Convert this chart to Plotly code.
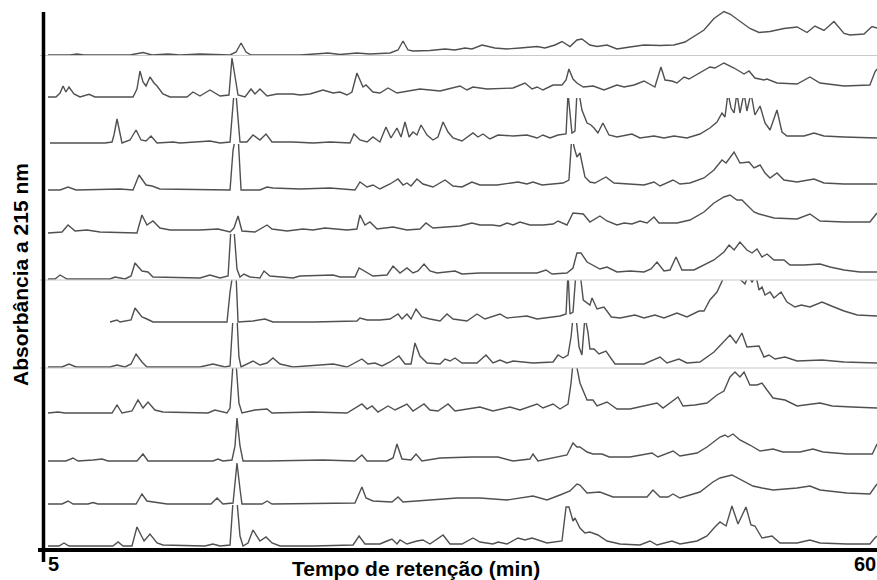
import plotly.graph_objects as go
from plotly.subplots import make_subplots

# ---------------- data (retention time in min, absorbance in arbitrary units) ----------------
t1_time = [5.13, 6.59, 7.05, 7.52, 10.56, 11.42, 12.02, 13.07, 13.87, 15.19, 17.18, 17.58, 17.91, 18.24, 18.57,
           21.81, 22.80, 23.66, 24.46, 25.58, 26.44, 26.91, 27.77, 28.30, 28.63, 28.96, 29.29, 30.41, 31.41, 32.07,
           32.73, 33.19, 33.86, 34.71, 35.51, 36.37, 37.50, 38.02, 38.69, 39.15, 39.68, 40.14, 40.47, 41.00, 41.47,
           42.13, 42.79, 43.65, 44.58, 45.64, 46.56, 47.29, 47.89, 48.55, 49.21, 49.87, 50.27, 50.93, 51.59, 52.19,
           52.92, 53.84, 54.71, 55.37, 55.89, 56.49, 57.15, 57.82, 58.21, 59.14, 59.67, 60.00]
t1_abs = [0, 0, 1, 0, 0, 2.5, 0, 1, 0, 1, 0, 3, 12, 3, 0,
          0, 1, 2, 0.5, 2, 1, 1.5, 2, 5, 14, 5, 4, 4.5, 6, 5,
          7, 6, 10, 7, 6, 7, 8.5, 7, 10, 13.5, 8.5, 15, 16, 10, 8.5,
          10, 6, 8, 10, 9.5, 10, 13, 18.5, 25, 36.5, 43.5, 41, 33.5, 26.5, 22.5,
          23.5, 26.5, 28, 22.5, 29, 24.5, 33.5, 21.5, 20, 21, 28.5, 27]

t2_time = [5.13, 5.66, 5.93, 6.13, 6.32, 6.52, 6.85, 7.25, 7.85, 8.24, 10.76, 11.02, 11.22, 11.42, 11.62, 11.88,
           12.15, 12.35, 12.74, 13.21, 14.33, 14.73, 15.19, 15.85, 16.52, 17.11, 17.31, 17.51, 17.71, 18.17, 18.57,
           18.83, 19.16, 19.63, 20.29, 21.35, 21.81, 22.47, 23.33, 24.00, 24.46, 24.92, 25.25, 25.58, 25.98, 26.18,
           26.64, 27.10, 27.64, 28.23, 29.75, 31.08, 32.40, 32.86, 33.26, 34.19, 35.91, 36.70, 37.17, 37.50, 37.89,
           38.56, 39.15, 39.42, 39.61, 39.88, 40.14, 40.56, 41.22, 41.93, 42.79, 43.26, 43.92, 44.58, 45.30, 45.50,
           45.70, 45.97, 46.43, 46.76, 47.23, 47.56, 48.28, 48.94, 49.27, 49.87, 50.54, 51.20, 51.53, 51.92, 52.52,
           52.72, 53.38, 54.71, 55.56, 56.23, 57.82, 59.53, 59.86, 60.00]
t2_abs = [0, 0, 4, 11, 5, 10, 3, 0, 2.7, 0, 0, 8, 26, 15, 11, 20,
          14, 11, 3, 0, 0, 5, 1, 7, 1, 2, 39, 20, 2, 0, 8,
          3, 8, 1, 3, 3, 2, 3, 7, 4, 5, 2, 5, 24, 10, 12,
          5, 4, 9, 4, 8, 6, 11, 7, 10, 8, 9, 14, 8, 10, 7,
          12, 12, 17, 28, 18, 14, 10, 11, 7, 12, 10, 12, 16, 10, 20,
          30, 17, 16, 14, 20, 18, 24, 30, 29, 34, 29, 23, 26, 19, 17,
          18, 14, 13, 20, 14, 11, 12, 25, 28]

t3_time = [5.26, 8.90, 9.37, 9.50, 9.70, 9.90, 10.03, 10.56, 10.96, 11.29, 11.62, 11.95, 12.35, 13.41, 13.87,
           15.85, 16.52, 17.18, 17.31, 17.44, 17.57, 17.71, 17.84, 18.30, 18.70, 19.16, 19.56, 19.96, 21.35, 22.67,
           23.80, 25.12, 25.38, 25.78, 26.25, 26.64, 27.10, 27.50, 27.83, 28.23, 28.50, 28.76, 29.03, 29.29, 29.55,
           29.82, 30.22, 30.61, 30.94, 31.28, 31.61, 31.94, 32.53, 33.26, 33.59, 33.92, 34.38, 34.92, 35.91, 36.83,
           37.50, 37.89, 38.36, 38.89, 39.42, 39.55, 39.68, 39.81, 40.01, 40.14, 40.28, 40.47, 40.81, 41.07, 41.27,
           41.53, 41.86, 42.26, 42.79, 43.78, 44.31, 45.24, 45.90, 46.56, 47.42, 48.28, 48.94, 49.41, 49.74, 49.94,
           50.14, 50.34, 50.54, 50.73, 50.93, 51.20, 51.39, 51.66, 51.92, 52.26, 52.59, 52.92, 53.38, 53.71, 54.04,
           55.17, 55.83, 56.49, 57.82, 60.00]
t3_abs = [0, 0, 1, 8, 24, 8, 0, 3, 13, 3, 2, 7, 0, 1, 0,
          2, 0, 1, 30, 50, 50, 20, 1, 1, 8, 3, 9, 1, 1, 0,
          1, 0, 9, 3, 1, 6, 1, 16, 5, 15, 6, 21, 6, 11, 8,
          18, 8, 3, 6, 21, 11, 5, 2, 10, 6, 9, 4, 8, 7, 8,
          5, 8, 5, 8, 9, 50, 30, 10, 12, 50, 50, 33, 20, 18, 15,
          10, 20, 8, 6, 9, 5, 7, 5, 7, 5, 9, 15, 21, 30, 26,
          50, 35, 30, 50, 30, 50, 32, 50, 28, 37, 20, 13, 33, 11, 7,
          7, 10, 7, 6, 5]

t4_time = [5.13, 5.93, 6.46, 6.99, 9.90, 10.76, 11.16, 11.62, 12.02, 12.54, 17.18, 17.38, 17.58, 17.71, 17.91,
           19.16, 19.63, 20.02, 21.81, 23.80, 25.45, 25.78, 26.25, 26.64, 27.10, 27.77, 28.30, 28.63, 28.89, 29.16,
           29.55, 29.95, 30.61, 31.41, 31.94, 32.53, 33.19, 33.72, 34.85, 36.24, 36.83, 37.23, 37.83, 38.36, 39.22,
           39.61, 39.81, 39.95, 40.14, 40.34, 40.67, 41.00, 41.33, 42.06, 42.59, 44.58, 45.24, 45.64, 46.50, 46.96,
           47.62, 48.55, 49.21, 49.74, 50.01, 50.54, 50.93, 51.53, 51.86, 52.26, 52.59, 52.92, 53.38, 53.84, 54.71,
           55.83, 56.49, 57.82, 60.00]
t4_abs = [0, 0, 3, 0, 1, 0, 15, 5, 4, 1, 0, 40, 55, 55, 0,
          0, 3, 2, 1, 2, 0, 8, 3, 5, 1, 6, 11, 5, 7, 4,
          11, 6, 3, 10, 4, 3, 8, 5, 5, 8, 6, 8, 5, 6, 7,
          10, 55, 43, 33, 37, 13, 8, 7, 13, 7, 5, 8, 4, 10, 6,
          7, 12, 20, 30, 27, 38, 27, 28, 22, 25, 17, 12, 17, 10, 8,
          11, 7, 6, 6]

t5_time = [5.13, 6.06, 6.46, 6.92, 7.71, 8.57, 11.02, 11.35, 11.68, 12.08, 12.54, 13.21, 15.19, 16.38, 17.18,
           17.44, 17.71, 17.97, 18.83, 19.63, 19.96, 20.95, 22.01, 22.67, 23.46, 24.92, 25.58, 25.78, 26.11, 26.44,
           26.91, 27.97, 28.89, 29.75, 30.15, 30.61, 32.40, 33.19, 33.72, 34.52, 35.05, 35.51, 35.91, 36.37, 37.03,
           37.89, 38.56, 38.89, 39.48, 39.88, 40.56, 41.00, 41.66, 42.13, 42.79, 43.26, 43.78, 44.31, 44.78, 45.24,
           45.57, 46.76, 47.62, 48.55, 49.21, 49.87, 50.27, 50.73, 51.06, 51.39, 51.86, 52.19, 53.18, 54.71, 55.56,
           56.23, 57.82, 59.53, 60.00]
t5_abs = [0, 1, 8, 2, 3, 1, 0, 18, 8, 12, 5, 3, 3, 4, 1,
          5, 17, 2, 1, 8, 4, 2, 4, 3, 5, 3, 4, 18, 8, 11,
          4, 6, 3, 4, 10, 5, 7, 10, 8, 8, 7, 10, 8, 11, 8,
          8, 9, 12, 8, 20, 19, 11, 17, 12, 8, 10, 9, 12, 10, 16,
          10, 10, 13, 21, 30, 36, 38, 33, 33, 28, 21, 19, 15, 14, 19,
          12, 11, 11, 20]

t6_time = [5.13, 5.60, 5.93, 6.39, 9.24, 9.57, 10.23, 10.63, 10.89, 11.35, 11.75, 12.08, 15.19, 15.85, 16.52,
           17.05, 17.24, 17.44, 17.64, 17.84, 18.10, 18.50, 19.16, 19.43, 19.82, 21.35, 21.81, 24.00, 24.46, 25.45,
           25.72, 26.25, 26.64, 27.57, 27.97, 28.43, 28.89, 29.29, 29.62, 30.02, 30.41, 30.88, 32.07, 32.53, 33.72,
           35.91, 37.50, 38.09, 38.49, 39.48, 39.88, 40.14, 40.41, 40.81, 41.14, 41.66, 42.13, 42.79, 43.65, 44.58,
           45.04, 45.44, 45.90, 46.30, 46.70, 47.09, 47.89, 48.28, 49.21, 49.87, 50.21, 50.54, 50.93, 51.39, 51.73,
           52.06, 52.39, 52.72, 53.18, 53.84, 54.24, 55.17, 56.23, 56.89, 57.82, 58.87, 60.00]
t6_abs = [0, 0, 4, 0, 0, 2, 0, 3, 16, 8, 7, 2, 1, 4, 1,
          3, 50, 50, 10, 2, 5, 2, 1, 8, 3, 1, 3, 4, 2, 2,
          11, 6, 3, 4, 13, 6, 11, 6, 8, 15, 8, 6, 8, 5, 6,
          6, 6, 9, 5, 6, 11, 26, 26, 17, 14, 10, 12, 7, 8, 7,
          10, 17, 8, 9, 22, 9, 9, 12, 19, 27, 34, 29, 37, 29, 26,
          30, 22, 25, 19, 19, 14, 14, 15, 12, 9, 7, 7]

t7_time = [9.24, 9.43, 9.70, 9.90, 10.63, 10.89, 11.35, 11.68, 12.08, 16.98, 17.18, 17.38, 17.57, 17.71, 18.70,
           19.49, 20.02, 22.67, 25.58, 25.78, 26.25, 27.10, 27.77, 28.30, 28.56, 28.89, 29.16, 29.49, 29.88, 30.41,
           31.08, 31.54, 31.94, 32.86, 33.53, 34.05, 35.05, 35.51, 36.83, 37.50, 38.16, 39.02, 39.42, 39.55, 39.68,
           39.88, 40.08, 40.34, 40.56, 41.00, 41.14, 41.47, 41.93, 42.42, 42.99, 43.98, 44.58, 45.30, 45.90, 46.76,
           47.42, 48.22, 48.55, 48.94, 49.41, 49.87, 50.60, 51.26, 51.46, 51.73, 51.99, 52.19, 52.39, 52.59, 52.92,
           53.18, 53.65, 54.04, 54.57, 54.99, 55.56, 56.36, 57.15, 57.82, 58.69, 60.00]
t7_abs = [0, 1, 2, 0, 2, 14, 5, 3, 0, 0, 30, 50, 50, 0, 1,
          3, 0, 0, 1, 4, 2, 2, 3, 8, 3, 8, 3, 13, 5, 3,
          1, 8, 3, 1, 8, 3, 8, 4, 6, 3, 4, 6, 8, 50, 8,
          10, 50, 50, 22, 17, 24, 13, 15, 5, 4, 7, 4, 7, 4, 9,
          5, 11, 11, 22, 30, 45, 48, 38, 46, 40, 46, 32, 35, 27, 30,
          24, 30, 20, 15, 17, 15, 20, 15, 11, 7, 6]

t8_time = [5.13, 6.06, 6.52, 6.99, 9.24, 9.70, 10.23, 10.63, 10.96, 11.35, 11.68, 15.19, 16.05, 16.85, 17.18,
           17.38, 17.64, 17.77, 17.91, 18.70, 19.16, 19.63, 20.02, 20.49, 21.35, 24.00, 24.92, 25.91, 26.31, 26.77,
           27.24, 27.77, 28.36, 28.76, 29.16, 29.42, 29.75, 30.22, 31.08, 31.41, 31.74, 32.07, 32.53, 33.53, 34.12,
           34.58, 35.05, 35.51, 35.91, 37.23, 38.56, 38.89, 39.22, 39.55, 39.75, 39.88, 40.08, 40.28, 40.47, 40.67,
           40.87, 41.00, 41.27, 41.60, 42.06, 42.66, 44.58, 45.64, 46.10, 46.89, 47.42, 48.28, 49.21, 49.87, 50.27,
           50.67, 51.06, 51.39, 51.86, 52.19, 52.52, 52.85, 53.25, 53.91, 54.71, 56.36, 57.82, 60.00]
t8_abs = [0, 0, 3, 0, 0, 2, 0, 3, 13, 5, 0, 0, 3, 0, 1,
          50, 50, 10, 0, 6, 2, 4, 9, 3, 0, 3, 0, 8, 3, 4,
          1, 5, 11, 3, 3, 24, 11, 4, 3, 8, 6, 9, 4, 4, 12,
          4, 7, 4, 6, 4, 5, 12, 9, 12, 30, 50, 50, 20, 12, 50,
          35, 18, 18, 13, 16, 3, 3, 10, 4, 8, 4, 5, 15, 25, 32,
          24, 34, 20, 21, 21, 10, 12, 8, 10, 6, 7, 5, 4]

t9_time = [5.13, 5.79, 6.26, 9.37, 9.70, 10.03, 10.69, 11.09, 11.42, 11.75, 12.21, 12.74, 15.72, 16.18, 16.98,
           17.18, 17.38, 17.58, 17.77, 17.97, 18.83, 19.63, 19.96, 22.67, 24.92, 25.91, 26.25, 26.58, 26.97, 27.64,
           28.10, 28.89, 29.29, 30.02, 30.41, 30.94, 31.61, 32.07, 33.72, 34.58, 35.71, 36.37, 37.50, 37.89, 38.56,
           39.02, 39.55, 39.75, 39.88, 40.08, 40.34, 40.81, 41.20, 41.47, 42.13, 42.79, 43.65, 45.44, 45.84, 46.83,
           47.16, 47.95, 48.75, 49.41, 49.87, 50.27, 50.60, 50.93, 51.20, 51.59, 52.06, 52.39, 52.72, 53.12, 53.91,
           54.71, 56.23, 57.04, 58.36, 60.00]
t9_abs = [0, 1, 0, 0, 8, 0, 2, 13, 5, 11, 3, 1, 0, 3, 0,
          5, 50, 50, 10, 0, 3, 4, 0, 1, 0, 9, 4, 7, 1, 7,
          3, 9, 2, 9, 3, 2, 9, 2, 6, 2, 6, 3, 9, 5, 9,
          4, 9, 30, 50, 50, 30, 13, 13, 7, 11, 4, 4, 10, 5, 16,
          7, 8, 10, 18, 22, 36, 41, 36, 41, 28, 28, 30, 23, 15, 13,
          7, 10, 7, 6, 5]

t10_time = [5.13, 6.32, 6.79, 7.12, 8.11, 8.71, 9.10, 11.02, 11.42, 11.75, 16.05, 16.38, 16.71, 17.31, 17.51,
            17.64, 17.84, 18.04, 19.63, 23.33, 25.45, 25.91, 26.25, 27.57, 27.97, 28.23, 28.56, 29.16, 29.49, 29.88,
            31.08, 33.19, 34.92, 35.91, 37.03, 37.23, 37.56, 38.76, 39.48, 39.88, 40.14, 40.34, 40.81, 41.20, 41.80,
            42.28, 43.65, 45.11, 45.50, 46.50, 46.96, 48.09, 48.75, 49.61, 49.94, 50.14, 50.47, 50.93, 51.59, 52.26,
            53.12, 53.77, 54.90, 55.76, 56.43, 58.01, 59.69, 60.00]
t10_abs = [0, 0, 3, 0, 1, 2, 0, 0, 7, 0, 0, 2, 0, 1, 15,
           43, 15, 0, 0, 1, 0, 6, 0, 0, 3, 17, 2, 1, 7, 0,
           3, 4, 4, 0, 2, 7, 0, 4, 6, 18, 14, 14, 9, 7, 7,
           4, 4, 8, 4, 10, 5, 8, 14, 24, 26, 24, 27, 21, 16, 10,
           12, 9, 9, 12, 9, 7, 7, 17]

t11_time = [5.13, 6.06, 6.46, 6.79, 7.78, 8.11, 8.44, 10.96, 11.35, 11.68, 13.01, 15.92, 16.32, 16.71, 17.38,
            17.51, 17.64, 17.84, 17.97, 19.30, 19.63, 19.96, 23.33, 25.45, 25.91, 26.18, 26.64, 27.90, 28.30, 28.63,
            30.41, 32.20, 33.72, 35.51, 37.23, 38.16, 39.02, 39.68, 40.14, 40.34, 40.81, 41.66, 42.53, 44.78, 45.17,
            45.64, 46.17, 46.50, 46.96, 48.28, 49.14, 49.61, 50.40, 50.93, 51.79, 52.39, 53.12, 54.71, 55.56, 56.23,
            58.01, 59.53, 60.00]
t11_abs = [0, 0, 3, 0, 0, 1.5, 0, 0, 10, 3, 0, 0, 6, 0, 1,
           20, 41, 15, 0, 0, 3, 0, 1, 1, 17, 6, 3, 2, 7, 2,
           4, 6, 6, 4, 8, 4, 9, 13, 20, 19, 11, 12, 7, 7, 14,
           7, 7, 10, 6, 12, 22, 26, 29, 25, 18, 16, 14, 16, 18, 14,
           11, 10, 20]

t12_time = [5.13, 5.86, 6.19, 6.52, 9.43, 9.77, 10.10, 10.69, 11.02, 11.49, 11.88, 12.35, 12.74, 15.52, 16.05,
            16.52, 17.18, 17.38, 17.64, 17.84, 18.04, 18.37, 18.70, 19.16, 19.56, 19.96, 20.49, 22.67, 25.32, 25.72,
            26.11, 27.10, 27.57, 27.90, 28.23, 28.43, 28.89, 29.55, 29.95, 30.41, 31.28, 31.74, 32.53, 33.26, 33.72,
            34.58, 34.92, 35.51, 36.24, 36.70, 37.17, 38.16, 39.15, 39.28, 39.42, 39.61, 39.88, 40.01, 40.34, 40.67,
            41.00, 41.53, 42.13, 42.99, 44.31, 44.97, 45.44, 46.43, 46.96, 48.09, 48.75, 49.27, 49.61, 50.01, 50.40,
            50.80, 51.33, 51.66, 51.92, 52.39, 53.05, 53.58, 54.71, 55.56, 56.23, 58.01, 59.53, 59.86, 60.00]
t12_abs = [0, 0, 3, 0, 0, 4, 0, 0, 19, 5, 12, 3, 1, 0, 2,
           0, 1, 45, 45, 10, 0, 3, 16, 5, 9, 3, 0, 0, 1, 10,
           2, 2, 5, 7, 2, 6, 2, 5, 6, 2, 11, 2, 2, 8, 4,
           2, 4, 2, 8, 6, 8, 3, 5, 20, 39, 39, 25, 28, 18, 13,
           14, 11, 5, 2, 1, 5, 1, 5, 2, 5, 10, 19, 24, 20, 40,
           22, 39, 21, 20, 8, 10, 3, 3, 6, 3, 2, 2, 8, 10]

series_time = [t1_time, t2_time, t3_time, t4_time, t5_time, t6_time,
               t7_time, t8_time, t9_time, t10_time, t11_time, t12_time]
series_abs = [t1_abs, t2_abs, t3_abs, t4_abs, t5_abs, t6_abs,
              t7_abs, t8_abs, t9_abs, t10_abs, t11_abs, t12_abs]

x_tick_labels = ["5", "60"]
x_title = "Tempo de retenção (min)"
y_title = "Absorbância a 215 nm"

# ---------------- layout (pixel geometry of the stacked panels) ----------------
W, H = 877, 580
M_L, M_R, M_T, M_B = 46, 0, 10, 33
row_px = [46, 42, 46, 47, 43, 46, 43, 45, 46, 48, 43, 42]
PLOT_W = W - M_L - M_R
PLOT_H = H - M_T - M_B
n = len(series_time)

fig = make_subplots(rows=n, cols=1, shared_xaxes=True, vertical_spacing=0,
                    row_heights=[r / sum(row_px) for r in row_px])

LINE = "#505050"
for i in range(n):
    fig.add_trace(go.Scatter(x=series_time[i], y=series_abs[i], mode="lines",
                             line=dict(color=LINE, width=1.4), hoverinfo="skip",
                             showlegend=False), row=i + 1, col=1)
    fig.update_yaxes(range=[-1, row_px[i] - 1], visible=False, fixedrange=True,
                     row=i + 1, col=1)
    fig.update_xaxes(range=[5, 60], visible=False, showgrid=False, row=i + 1, col=1)


def px_x(px):
    return (px - M_L) / PLOT_W


def px_y(py):
    return (H - M_B - py) / PLOT_H


shapes = []
# faint panel separators
for py in [55.5, 280, 368]:
    shapes.append(dict(type="line", xref="paper", yref="paper", x0=px_x(40), x1=px_x(877),
                       y0=px_y(py), y1=px_y(py), line=dict(color="#c9c9c9", width=1)))
# thick axes
shapes.append(dict(type="line", xref="paper", yref="paper", x0=px_x(43.5), x1=px_x(43.5),
                   y0=px_y(12), y1=px_y(562), line=dict(color="black", width=3.5)))
shapes.append(dict(type="line", xref="paper", yref="paper", x0=px_x(38), x1=px_x(877),
                   y0=px_y(550), y1=px_y(550), line=dict(color="black", width=4)))

FONT = "Liberation Sans, Arial, sans-serif"
annotations = [
    dict(text="<b>%s</b>" % x_tick_labels[0], xref="paper", yref="paper", x=px_x(46), y=px_y(564),
         xanchor="left", yanchor="middle", showarrow=False, font=dict(family=FONT, size=20, color="black")),
    dict(text="<b>%s</b>" % x_tick_labels[1], xref="paper", yref="paper", x=px_x(878), y=px_y(564),
         xanchor="right", yanchor="middle", showarrow=False, font=dict(family=FONT, size=20, color="black")),
    dict(text="<b>%s</b>" % x_title, xref="paper", yref="paper", x=px_x(416), y=px_y(568),
         xanchor="center", yanchor="middle", showarrow=False, font=dict(family=FONT, size=21, color="black")),
    dict(text="<b>%s</b>" % y_title, xref="paper", yref="paper", x=px_x(20), y=px_y(275),
         xanchor="center", yanchor="middle", textangle=-90, showarrow=False,
         font=dict(family=FONT, size=21, color="black")),
]

fig.update_layout(width=W, height=H, margin=dict(l=M_L, r=M_R, t=M_T, b=M_B),
                  paper_bgcolor="white", plot_bgcolor="white",
                  shapes=shapes, annotations=annotations, showlegend=False)

fig.write_html("out.html", config={"displayModeBar": False},
               post_script="document.body.style.margin='0';document.body.style.overflow='hidden';")
